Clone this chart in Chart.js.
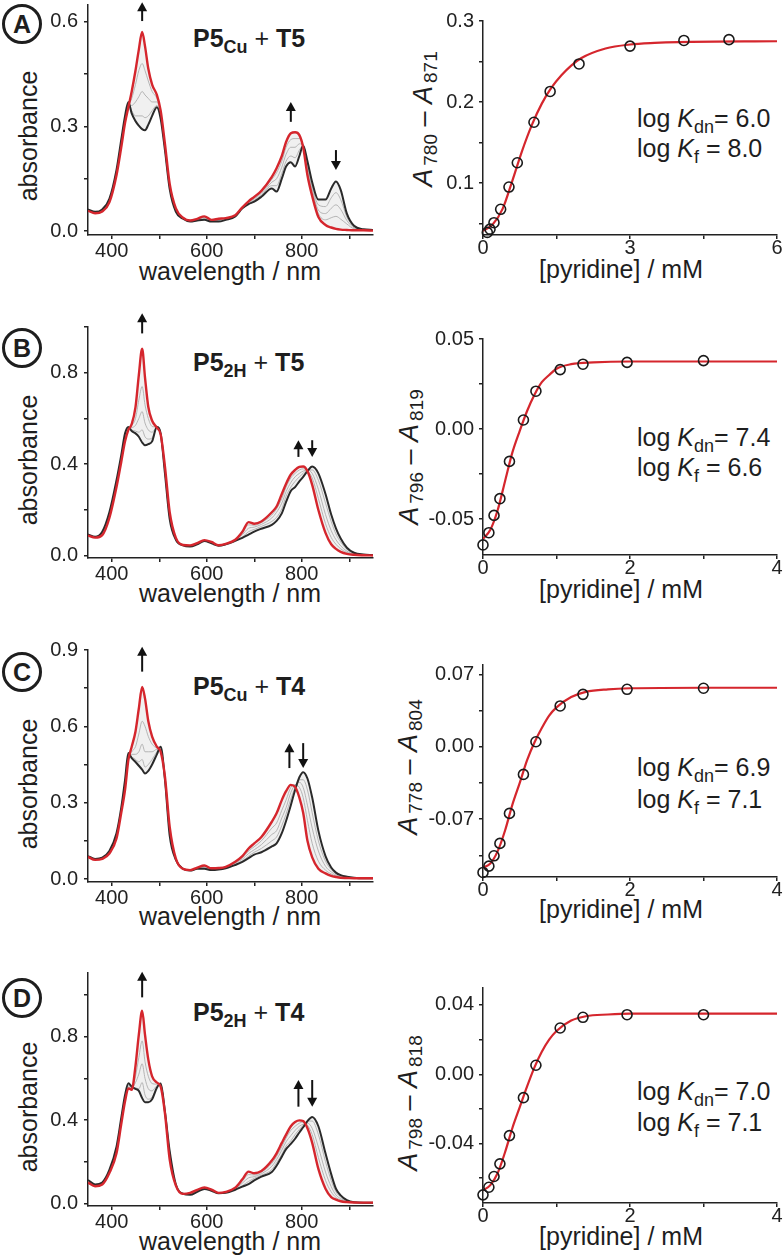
<!DOCTYPE html>
<html>
<head>
<meta charset="utf-8">
<script src="https://cdn.jsdelivr.net/npm/chart.js@4.4.1/dist/chart.umd.min.js"></script>
<style>
  body{margin:0;width:784px;height:1260px;position:relative;overflow:hidden;background:#fff;
       font-family:"Liberation Sans",Arial,sans-serif;color:#1e1e1e}
  canvas{position:absolute}
  .t{position:absolute;white-space:nowrap;line-height:1}
  .xl{font-size:25px;transform:translateX(-50%)}
  .yl{font-size:25px;transform:translate(-50%,-50%) rotate(-90deg)}
  .yr{font-size:27px;transform:translate(-50%,-50%) rotate(-90deg)}
  .yr span{font-size:19px;position:relative;top:5px;margin-left:3px}
  .ttl{font-size:25px;font-weight:bold}
  .ttl span{font-size:18px;position:relative;top:6px}
  .ttl b{font-weight:normal}
  .k{font-size:25px}
  .k span{font-size:18px;position:relative;top:6px}
  .circ{position:absolute;width:34px;height:34px;border:3px solid #1e1e1e;border-radius:50%;
        font-weight:bold;font-size:25px;text-align:center;line-height:35px}
</style>
</head>
<body>

<div class="circ" style="left:2px;top:4px">A</div>
<div class="circ" style="left:2px;top:328px">B</div>
<div class="circ" style="left:2px;top:652px">C</div>
<div class="circ" style="left:2px;top:978px">D</div>

<div class="t ttl" style="left:193px;top:26px">P5<span>Cu</span> <b>+</b> T5</div>
<div class="t ttl" style="left:193px;top:350px">P5<span>2H</span> <b>+</b> T5</div>
<div class="t ttl" style="left:193px;top:674px">P5<span>Cu</span> <b>+</b> T4</div>
<div class="t ttl" style="left:193px;top:1000px">P5<span>2H</span> <b>+</b> T4</div>

<div class="t yl" style="left:28px;top:136px">absorbance</div>
<div class="t yl" style="left:28px;top:460px">absorbance</div>
<div class="t yl" style="left:28px;top:784px">absorbance</div>
<div class="t yl" style="left:28px;top:1107px">absorbance</div>

<div class="t xl" style="left:230px;top:259px">wavelength / nm</div>
<div class="t xl" style="left:230px;top:581px">wavelength / nm</div>
<div class="t xl" style="left:230px;top:904px">wavelength / nm</div>
<div class="t xl" style="left:230px;top:1229px">wavelength / nm</div>

<div class="t xl" style="left:621px;top:257px">[pyridine] / mM</div>
<div class="t xl" style="left:621px;top:577px">[pyridine] / mM</div>
<div class="t xl" style="left:621px;top:897px">[pyridine] / mM</div>
<div class="t xl" style="left:621px;top:1224px">[pyridine] / mM</div>

<div class="t yr" style="left:423px;top:119px"><i>A</i><span>780</span> – <i>A</i><span>871</span></div>
<div class="t yr" style="left:409px;top:457px"><i>A</i><span>796</span> – <i>A</i><span>819</span></div>
<div class="t yr" style="left:408px;top:767px"><i>A</i><span>778</span> – <i>A</i><span>804</span></div>
<div class="t yr" style="left:408px;top:1103px"><i>A</i><span>798</span> – <i>A</i><span>818</span></div>

<div class="t k" style="left:637px;top:106px">log <i>K</i><span>dn</span>= 6.0</div>
<div class="t k" style="left:637px;top:136px">log <i>K</i><span>f</span> = 8.0</div>
<div class="t k" style="left:637px;top:425px">log <i>K</i><span>dn</span>= 7.4</div>
<div class="t k" style="left:637px;top:455px">log <i>K</i><span>f</span> = 6.6</div>
<div class="t k" style="left:637px;top:755px">log <i>K</i><span>dn</span>= 6.9</div>
<div class="t k" style="left:637px;top:787px">log <i>K</i><span>f</span> = 7.1</div>
<div class="t k" style="left:637px;top:1079px">log <i>K</i><span>dn</span>= 7.0</div>
<div class="t k" style="left:637px;top:1110px">log <i>K</i><span>f</span> = 7.1</div>

<script>
// --- SPECTRA DATA (wavelength grid shared by all four spectral panels) ---
const WL = [350,365,380,395,410,420,428,435,442,450,457,464,470,477,485,495,503,512,522,535,
            550,565,580,595,610,625,640,660,675,688,700,715,737,747,758,767,777,786,795,803,
            812,822,835,850,862,872,882,895,910,930,950];

// A: P5Cu + T5
const blackA = [0.062,0.055,0.062,0.092,0.175,0.262,0.33,0.37,0.337,0.315,0.302,0.292,0.289,0.305,0.33,0.355,0.322,0.232,0.12,0.055,
                0.035,0.027,0.03,0.032,0.027,0.027,0.032,0.042,0.065,0.077,0.084,0.098,0.122,0.113,0.15,0.185,0.197,0.185,0.215,0.245,
                0.2,0.14,0.09,0.09,0.122,0.142,0.118,0.05,0.015,0.005,0.003];
const redA   = [0.058,0.051,0.056,0.082,0.16,0.24,0.31,0.355,0.40,0.46,0.52,0.571,0.53,0.465,0.42,0.39,0.345,0.25,0.135,0.065,
                0.038,0.03,0.035,0.042,0.032,0.035,0.037,0.045,0.068,0.085,0.098,0.115,0.155,0.18,0.215,0.255,0.28,0.283,0.275,0.24,
                0.16,0.1,0.04,0.017,0.01,0.006,0.004,0.003,0.002,0.002,0.001];
const grayA1 = [0.061,0.054,0.061,0.09,0.172,0.258,0.325,0.365,0.345,0.33,0.33,0.33,0.325,0.33,0.345,0.36,0.327,0.236,0.124,0.058,
                0.036,0.028,0.031,0.035,0.029,0.03,0.033,0.043,0.066,0.079,0.088,0.103,0.13,0.13,0.165,0.2,0.215,0.21,0.232,0.245,
                0.195,0.13,0.075,0.07,0.095,0.11,0.09,0.04,0.012,0.004,0.002];
const grayA2 = [0.06,0.053,0.059,0.087,0.168,0.252,0.32,0.36,0.36,0.37,0.385,0.4,0.39,0.38,0.37,0.37,0.333,0.24,0.128,0.06,
                0.037,0.029,0.032,0.038,0.03,0.032,0.035,0.044,0.067,0.081,0.092,0.108,0.14,0.15,0.183,0.22,0.24,0.24,0.25,0.245,
                0.185,0.12,0.06,0.05,0.065,0.075,0.062,0.03,0.009,0.003,0.002];
const grayA3 = [0.059,0.052,0.057,0.084,0.164,0.246,0.315,0.357,0.38,0.42,0.46,0.48,0.46,0.43,0.4,0.38,0.34,0.245,0.132,0.063,
                0.038,0.03,0.034,0.04,0.031,0.034,0.036,0.045,0.068,0.083,0.095,0.112,0.148,0.167,0.2,0.24,0.262,0.265,0.265,0.245,
                0.175,0.11,0.05,0.032,0.038,0.042,0.034,0.02,0.006,0.003,0.002];

// B: P5_2H + T5
const blackB = [0.093,0.083,0.105,0.19,0.33,0.44,0.535,0.563,0.545,0.535,0.52,0.495,0.483,0.488,0.5,0.563,0.534,0.36,0.16,0.07,
                0.045,0.04,0.05,0.064,0.054,0.044,0.05,0.065,0.078,0.092,0.105,0.118,0.135,0.152,0.185,0.235,0.283,0.3,0.325,0.345,
                0.37,0.39,0.36,0.27,0.18,0.12,0.075,0.035,0.013,0.005,0.003];
const redB   = [0.088,0.079,0.09,0.165,0.30,0.41,0.50,0.55,0.575,0.65,0.79,0.905,0.78,0.65,0.59,0.56,0.53,0.39,0.19,0.078,
                0.047,0.045,0.055,0.068,0.06,0.046,0.052,0.07,0.105,0.147,0.14,0.15,0.19,0.215,0.27,0.315,0.355,0.375,0.388,0.39,
                0.37,0.31,0.2,0.1,0.05,0.03,0.017,0.008,0.004,0.002,0.001];
const grayB1 = [0.092,0.082,0.1,0.185,0.325,0.435,0.525,0.56,0.55,0.545,0.54,0.55,0.52,0.51,0.515,0.563,0.533,0.365,0.165,0.072,
                0.045,0.041,0.051,0.065,0.055,0.044,0.05,0.066,0.082,0.105,0.115,0.128,0.15,0.168,0.205,0.26,0.3,0.325,0.345,0.36,
                0.375,0.375,0.33,0.23,0.15,0.095,0.06,0.028,0.01,0.004,0.002];
const grayB2 = [0.09,0.081,0.097,0.178,0.315,0.425,0.515,0.555,0.56,0.57,0.6,0.63,0.58,0.55,0.54,0.562,0.532,0.375,0.175,0.075,
                0.046,0.043,0.053,0.066,0.057,0.045,0.051,0.068,0.092,0.12,0.125,0.137,0.165,0.19,0.23,0.28,0.32,0.345,0.36,0.37,
                0.375,0.36,0.29,0.18,0.11,0.07,0.043,0.02,0.008,0.003,0.002];
const grayB3 = [0.089,0.08,0.093,0.17,0.305,0.415,0.505,0.552,0.57,0.6,0.68,0.74,0.66,0.6,0.565,0.561,0.531,0.385,0.183,0.077,
                0.046,0.044,0.054,0.067,0.059,0.046,0.052,0.069,0.1,0.135,0.133,0.145,0.178,0.205,0.25,0.3,0.34,0.36,0.375,0.38,
                0.37,0.34,0.25,0.14,0.08,0.05,0.03,0.014,0.006,0.003,0.001];

// C: P5Cu + T4
const blackC = [0.09,0.079,0.084,0.11,0.18,0.28,0.39,0.495,0.475,0.46,0.445,0.43,0.415,0.425,0.45,0.49,0.52,0.39,0.17,0.075,
                0.04,0.033,0.04,0.04,0.035,0.037,0.042,0.055,0.067,0.082,0.096,0.105,0.128,0.14,0.18,0.228,0.29,0.35,0.4,0.42,
                0.395,0.32,0.19,0.09,0.045,0.025,0.015,0.009,0.005,0.003,0.003];
const redC   = [0.087,0.075,0.079,0.1,0.159,0.26,0.35,0.468,0.52,0.58,0.67,0.755,0.71,0.62,0.56,0.52,0.5,0.402,0.205,0.08,
                0.04,0.035,0.045,0.053,0.042,0.043,0.048,0.068,0.09,0.12,0.14,0.165,0.225,0.258,0.31,0.345,0.37,0.362,0.32,0.26,
                0.15,0.085,0.04,0.022,0.012,0.008,0.005,0.004,0.003,0.003,0.003];
const grayC1 = [0.089,0.078,0.083,0.107,0.175,0.275,0.38,0.49,0.48,0.47,0.46,0.47,0.44,0.45,0.47,0.5,0.515,0.392,0.185,0.076,
                0.04,0.033,0.041,0.043,0.037,0.038,0.043,0.058,0.071,0.09,0.105,0.12,0.15,0.165,0.21,0.255,0.315,0.36,0.39,0.39,
                0.35,0.26,0.15,0.07,0.037,0.021,0.013,0.008,0.004,0.003,0.003];
const grayC2 = [0.088,0.077,0.081,0.104,0.17,0.27,0.37,0.483,0.49,0.49,0.5,0.53,0.5,0.5,0.5,0.51,0.51,0.395,0.19,0.078,
                0.04,0.034,0.042,0.046,0.039,0.04,0.045,0.062,0.078,0.1,0.115,0.135,0.175,0.19,0.24,0.28,0.34,0.37,0.38,0.36,
                0.29,0.2,0.11,0.05,0.028,0.016,0.01,0.006,0.004,0.003,0.003];
const grayC3 = [0.087,0.076,0.08,0.102,0.165,0.265,0.36,0.475,0.5,0.52,0.57,0.62,0.6,0.56,0.53,0.515,0.505,0.398,0.198,0.079,
                0.04,0.035,0.044,0.05,0.041,0.042,0.047,0.065,0.084,0.11,0.127,0.15,0.2,0.22,0.27,0.31,0.36,0.37,0.36,0.32,
                0.23,0.14,0.07,0.035,0.02,0.012,0.007,0.005,0.003,0.003,0.003];

// D: P5_2H + T4
const blackD = [0.112,0.09,0.1,0.16,0.272,0.41,0.52,0.576,0.56,0.55,0.54,0.505,0.485,0.485,0.5,0.555,0.575,0.44,0.25,0.09,
                0.046,0.041,0.055,0.069,0.06,0.048,0.05,0.065,0.08,0.092,0.11,0.128,0.15,0.18,0.224,0.26,0.285,0.31,0.34,0.365,
                0.395,0.415,0.37,0.24,0.14,0.07,0.038,0.015,0.005,0.003,0.003];
const redD   = [0.099,0.082,0.09,0.145,0.24,0.38,0.49,0.552,0.545,0.66,0.81,0.925,0.81,0.69,0.61,0.58,0.56,0.432,0.21,0.085,
                0.045,0.05,0.065,0.076,0.066,0.05,0.055,0.075,0.115,0.152,0.144,0.155,0.205,0.24,0.29,0.33,0.37,0.39,0.398,0.395,
                0.36,0.29,0.165,0.07,0.03,0.018,0.01,0.006,0.004,0.003,0.003];
const grayD1 = [0.11,0.089,0.098,0.157,0.268,0.405,0.515,0.572,0.56,0.555,0.55,0.58,0.52,0.5,0.51,0.556,0.573,0.438,0.245,0.089,
                0.046,0.042,0.056,0.07,0.061,0.048,0.051,0.067,0.085,0.105,0.12,0.135,0.162,0.195,0.235,0.275,0.3,0.33,0.355,0.375,
                0.395,0.395,0.33,0.2,0.11,0.055,0.03,0.012,0.005,0.003,0.003];
const grayD2 = [0.106,0.086,0.095,0.152,0.258,0.395,0.505,0.565,0.555,0.58,0.62,0.67,0.6,0.55,0.54,0.565,0.568,0.436,0.235,0.087,
                0.046,0.045,0.06,0.072,0.063,0.049,0.052,0.07,0.097,0.122,0.128,0.142,0.178,0.21,0.255,0.295,0.325,0.35,0.37,0.38,
                0.385,0.36,0.27,0.15,0.08,0.04,0.022,0.01,0.004,0.003,0.003];
const grayD3 = [0.102,0.084,0.092,0.148,0.248,0.388,0.498,0.558,0.55,0.61,0.7,0.78,0.68,0.61,0.575,0.572,0.564,0.434,0.222,0.086,
                0.046,0.048,0.063,0.074,0.065,0.05,0.054,0.073,0.107,0.138,0.136,0.149,0.192,0.225,0.272,0.313,0.35,0.37,0.385,0.39,
                0.375,0.33,0.22,0.11,0.055,0.028,0.016,0.008,0.004,0.003,0.003];

// arrows on the spectra: wavelength, tail value, head value
const arrowWlA = [464, 777, 872],  arrowTailA = [0.602, 0.313, 0.232], arrowHeadA = [0.656, 0.37, 0.175];
const arrowWlB = [464, 793, 822],  arrowTailB = [0.972, 0.432, 0.505], arrowHeadB = [1.06, 0.505, 0.432];
const arrowWlC = [464, 774, 803],  arrowTailC = [0.815, 0.436, 0.534], arrowHeadC = [0.913, 0.534, 0.436];
const arrowWlD = [464, 793, 822],  arrowTailD = [0.989, 0.464, 0.592], arrowHeadD = [1.112, 0.592, 0.464];

// --- TITRATION DATA ---
const concA = [0.088,0.143,0.224,0.36,0.53,0.70,1.04,1.37,1.96,3.0,4.10,5.02];
const diffA = [0.039,0.043,0.051,0.0675,0.095,0.125,0.175,0.213,0.247,0.269,0.276,0.277];
const fitXA = [0,0.2,0.4,0.6,0.8,1.0,1.2,1.4,1.6,1.8,2.0,2.5,3.0,3.5,4.0,6.0];
const fitYA = [0.041,0.049,0.068,0.103,0.14,0.172,0.198,0.218,0.233,0.245,0.254,0.266,0.271,0.273,0.274,0.275];

const concBCD = [0,0.08,0.15,0.23,0.36,0.55,0.72,1.05,1.36,1.96,3.0];
const diffB = [-0.0644,-0.0576,-0.048,-0.0387,-0.018,0.005,0.021,0.033,0.036,0.037,0.038];
const fitXB = [0,0.1,0.2,0.3,0.4,0.5,0.6,0.7,0.8,0.9,1.0,1.2,1.5,2.0,4.0];
const fitYB = [-0.061,-0.056,-0.045,-0.029,-0.013,-0.001,0.01,0.019,0.026,0.03,0.0335,0.036,0.037,0.0375,0.0375];

const diffC = [-0.1216,-0.1155,-0.1055,-0.0935,-0.0645,-0.0268,0.0048,0.0394,0.0506,0.0555,0.0565];
const fitXC = [0,0.1,0.2,0.3,0.4,0.5,0.6,0.7,0.8,0.9,1.0,1.2,1.4,1.7,2.0,3.0,4.0];
const fitYC = [-0.117,-0.113,-0.101,-0.081,-0.056,-0.035,-0.013,0.004,0.018,0.03,0.038,0.048,0.053,0.0555,0.0565,0.057,0.057];

const diffD = [-0.0696,-0.0652,-0.059,-0.0517,-0.0354,-0.0135,0.0052,0.0267,0.0329,0.0344,0.0344];
const fitXD = [0,0.1,0.2,0.3,0.4,0.5,0.6,0.7,0.8,0.9,1.0,1.2,1.4,1.7,2.0,4.0];
const fitYD = [-0.067,-0.064,-0.057,-0.045,-0.031,-0.019,-0.007,0.004,0.013,0.02,0.025,0.031,0.0335,0.0345,0.035,0.035];

// --- TICKS ---
const wlTicks = [400,500,600,700,800,900], wlLabels = ['400','','600','','800',''];
const concTicks6 = [0,1.5,3,4.5,6], concLabels6 = ['0','','3','','6'];
const concTicks4 = [0,1,2,3,4], concLabels4 = ['0','','2','','4'];
const absTicksA = [0,0.15,0.3,0.45,0.6], absLabelsA = ['0.0','','0.3','','0.6'];
const absTicksB = [0,0.2,0.4,0.6,0.8,1.0], absLabelsB = ['0.0','','0.4','','0.8',''];
const absTicksC = [0,0.15,0.3,0.45,0.6,0.75,0.9], absLabelsC = ['0.0','','0.3','','0.6','','0.9'];
const absTicksD = absTicksB, absLabelsD = absLabelsB;
const difTicksA = [0.05,0.1,0.15,0.2,0.25,0.3], difLabelsA = ['','0.1','','0.2','','0.3'];
const difTicksB = [-0.05,-0.025,0,0.025,0.05], difLabelsB = ['-0.05','','0.00','','0.05'];
const difTicksC = [-0.105,-0.07,-0.035,0,0.035,0.07], difLabelsC = ['','-0.07','','0.00','','0.07'];
const difTicksD = [-0.06,-0.04,-0.02,0,0.02,0.04], difLabelsD = ['','-0.04','','0.00','','0.04'];

// --- LAYOUT (plot boxes in page px: left, top, right, bottom) ---
const YW = 60, XH = 40, PT = 30, PR = 10;
const RED = '#d5262d', INK = '#222', GRAY = '#aeaeae', BAND = '#f0f0f0';
const FONT = {family:'"Liberation Sans", Arial, sans-serif', size:20};

function pts(xs, ys){ return xs.map((x,i)=>({x, y:ys[i]})); }

function axis(min, max, ticks, labels, fit, pad){
  return {
    type:'linear', min, max,
    afterBuildTicks: s => { s.ticks = ticks.map(v=>({value:v})); },
    afterFit: fit,
    ticks:{ callback:(v,i)=>labels[i], font:FONT, color:INK, padding:pad, autoSkip:false, maxRotation:0 },
    grid:{ drawOnChartArea:false, drawTicks:true, tickLength:4, color:INK, lineWidth:1.5 },
    border:{ color:INK, width:1.5 }
  };
}

function arrowPlugin(wl, tail, head){
  return {
    id:'arrows',
    afterDraw(chart){
      const {ctx, scales:{x, y}} = chart;
      ctx.save();
      ctx.strokeStyle = '#111'; ctx.fillStyle = '#111'; ctx.lineWidth = 2;
      wl.forEach((w,i)=>{
        const px = x.getPixelForValue(w);
        const y0 = y.getPixelForValue(tail[i]), y1 = y.getPixelForValue(head[i]);
        const dir = y1 < y0 ? -1 : 1;
        ctx.beginPath(); ctx.moveTo(px, y0); ctx.lineTo(px, y1 - dir*7); ctx.stroke();
        ctx.beginPath(); ctx.moveTo(px, y1); ctx.lineTo(px-5, y1-dir*9); ctx.lineTo(px+5, y1-dir*9); ctx.closePath(); ctx.fill();
      });
      ctx.restore();
    }
  };
}

function makeCanvas(box){
  const [l,t,r,b] = box;
  const c = document.createElement('canvas');
  c.width = YW + (r-l) + PR; c.height = PT + (b-t) + XH;
  c.style.left = (l-YW)+'px'; c.style.top = (t-PT)+'px';
  c.style.width = c.width+'px'; c.style.height = c.height+'px';
  document.body.appendChild(c);
  return c;
}

function baseOptions(xAxis, yAxis){
  return {
    responsive:false, animation:false, devicePixelRatio:1, events:[],
    layout:{ padding:{ top:PT, right:PR, left:0, bottom:0 } },
    plugins:{ legend:{display:false}, tooltip:{enabled:false}, filler:{ drawTime:'beforeDatasetsDraw' } },
    scales:{ x:xAxis, y:yAxis }
  };
}

function spectrum(box, yMin, yMax, yTicks, yLabels, black, red, grays, arrows){
  const line = (data, color, w, extra) => Object.assign({
    data:pts(WL, data), borderColor:color, borderWidth:w, pointRadius:0,
    cubicInterpolationMode:'monotone', fill:false
  }, extra||{});
  const sets = [ line(red, RED, 2.4), line(black, '#2a2a2a', 2, {fill:0, backgroundColor:BAND}) ]
    .concat(grays.map(g => line(g, GRAY, 0.9)));
  new Chart(makeCanvas(box), {
    type:'line',
    data:{ datasets:sets },
    options: baseOptions(
      axis(350, 950, wlTicks, wlLabels, s => { s.height = XH; }, 0),
      axis(yMin, yMax, yTicks, yLabels, s => { s.width = YW; }, 6)
    ),
    plugins:[ arrowPlugin(arrows[0], arrows[1], arrows[2]) ]
  });
}

function titration(box, xMax, xTicks, xLabels, yMin, yMax, yTicks, yLabels, conc, diff, fitX, fitY){
  new Chart(makeCanvas(box), {
    type:'line',
    data:{ datasets:[
      { data:pts(conc, diff), showLine:false, pointRadius:5, pointBorderWidth:1.6,
        pointBorderColor:'#1a1a1a', pointBackgroundColor:'rgba(0,0,0,0)', clip:false },
      { data:pts(fitX, fitY), borderColor:RED, borderWidth:2.2, pointRadius:0,
        cubicInterpolationMode:'monotone', fill:false }
    ]},
    options: baseOptions(
      axis(0, xMax, xTicks, xLabels, s => { s.height = XH; }, -3),
      axis(yMin, yMax, yTicks, yLabels, s => { s.width = YW; }, 5)
    )
  });
}

window.addEventListener('DOMContentLoaded', ()=>{
  spectrum([88,5,373,235], -0.0115, 0.648, absTicksA, absLabelsA, blackA, redA, [grayA1,grayA2,grayA3], [arrowWlA, arrowTailA, arrowHeadA]);
  spectrum([88,327,373,558], -0.01, 1.0, absTicksB, absLabelsB, blackB, redB, [grayB1,grayB2,grayB3], [arrowWlB, arrowTailB, arrowHeadB]);
  spectrum([88,650,373,882], -0.0118, 0.9, absTicksC, absLabelsC, blackC, redC, [grayC1,grayC2,grayC3], [arrowWlC, arrowTailC, arrowHeadC]);
  spectrum([88,973,373,1206], -0.013, 1.106, absTicksD, absLabelsD, blackD, redD, [grayD1,grayD2,grayD3], [arrowWlD, arrowTailD, arrowHeadD]);

  titration([483,21,777,235], 6, concTicks6, concLabels6, 0.0358, 0.3, difTicksA, difLabelsA, concA, diffA, fitXA, fitYA);
  titration([483,339,777,555], 4, concTicks4, concLabels4, -0.07, 0.05, difTicksB, difLabelsB, concBCD, diffB, fitXB, fitYB);
  titration([483,665,777,877], 4, concTicks4, concLabels4, -0.126, 0.079, difTicksC, difLabelsC, concBCD, diffC, fitXC, fitYC);
  titration([483,988,777,1203], 4, concTicks4, concLabels4, -0.0743, 0.0498, difTicksD, difLabelsD, concBCD, diffD, fitXD, fitYD);
});
</script>
</body>
</html>
